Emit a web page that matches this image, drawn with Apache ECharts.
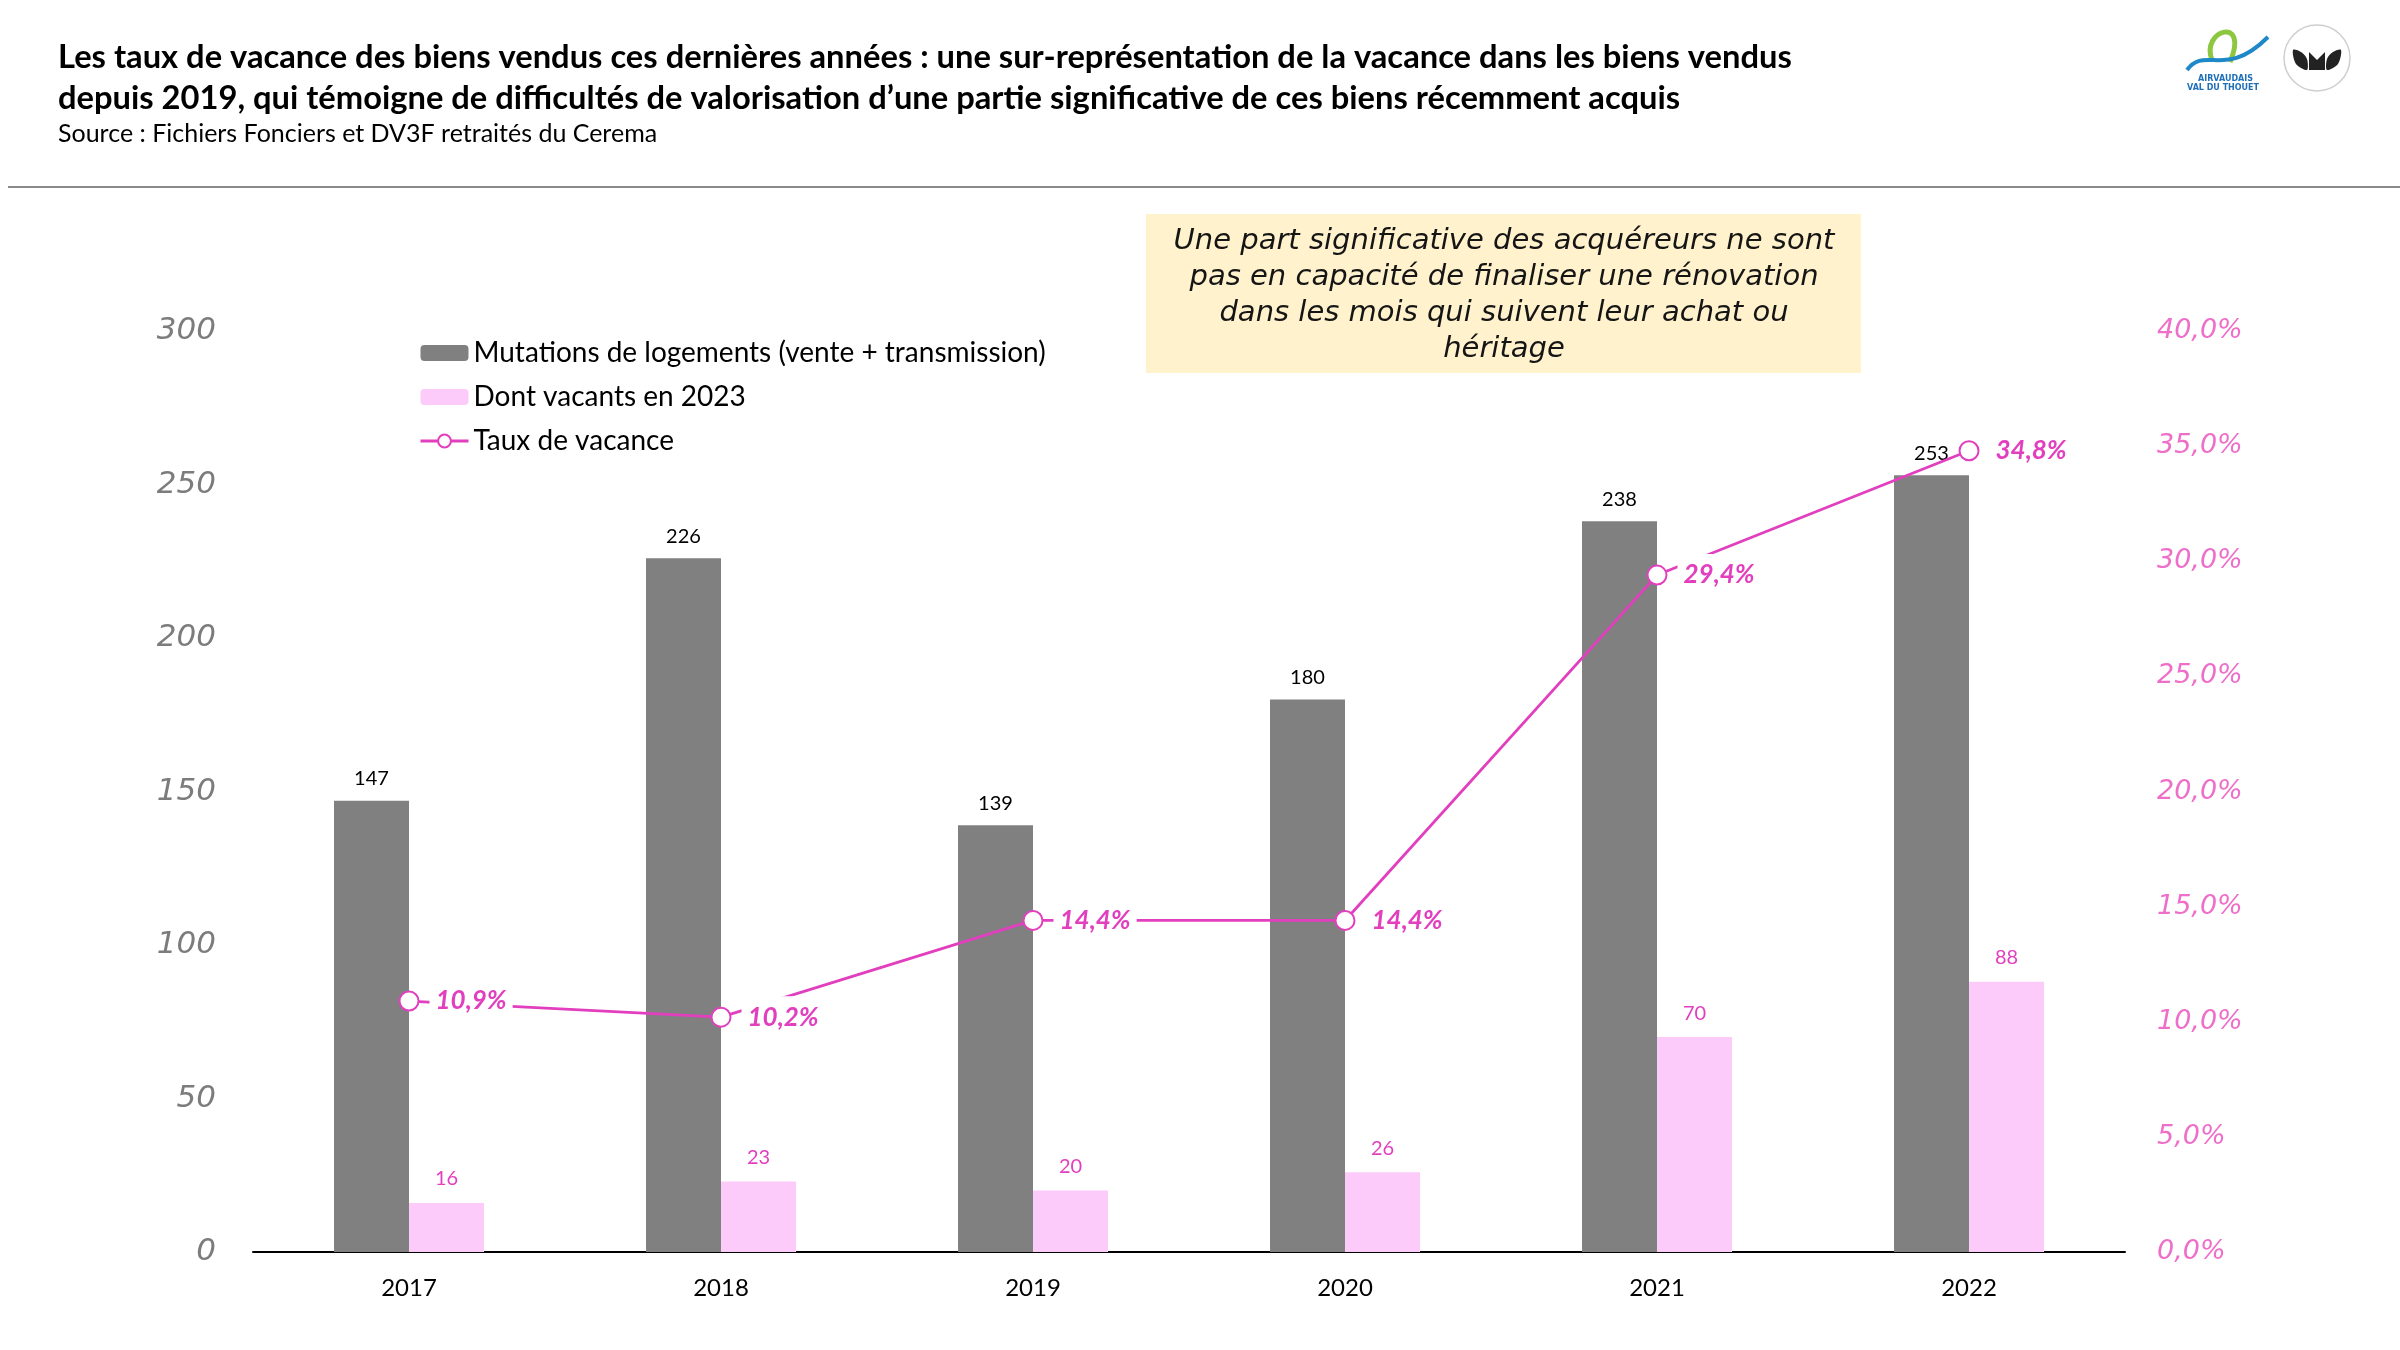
<!DOCTYPE html>
<html>
<head>
<meta charset="utf-8">
<script src="https://cdn.jsdelivr.net/npm/echarts@6/dist/echarts.min.js"></script>
<style>
html,body{margin:0;padding:0;background:#fff;}
#chart{width:2400px;height:1350px;}
</style>
</head>
<body>
<div id="chart"></div>
<script>
const categories = ['2017', '2018', '2019', '2020', '2021', '2022'];
const mutations = [147, 226, 139, 180, 238, 253];
const vacants = [16, 23, 20, 26, 70, 88];
const tauxVacance = [10.9, 10.2, 14.4, 14.4, 29.4, 34.8];
const seriesNames = ['Mutations de logements (vente + transmission)', 'Dont vacants en 2023', 'Taux de vacance'];
const titleLines = [
  'Les taux de vacance des biens vendus ces dernières années : une sur-représentation de la vacance dans les biens vendus',
  'depuis 2019, qui témoigne de difficultés de valorisation d\u2019une partie significative de ces biens récemment acquis'
];
const sourceText = 'Source : Fichiers Fonciers et DV3F retraités du Cerema';
const noteLines = [
  'Une part significative des acquéreurs ne sont',
  'pas en capacité de finaliser une rénovation',
  'dans les mois qui suivent leur achat ou',
  'héritage'
];

const MAGENTA = '#E23FBF';
const PINK_AXIS = '#EE6FC9';
const fmtPct = v => Number(v).toFixed(1).replace('.', ',') + '%';

const chart = echarts.init(document.getElementById('chart'), null, {renderer: 'canvas'});

const option = {
  backgroundColor: '#ffffff',
  animation: false,
  grid: {left: 253, right: 275, top: 331, bottom: 98, containLabel: false},
  legend: {
    orient: 'vertical',
    left: 419,
    top: 339,
    padding: 0,
    itemWidth: 48,
    itemHeight: 16,
    itemGap: 16,
    data: [
      {name: seriesNames[0]},
      {name: seriesNames[1]},
      {name: seriesNames[2], itemStyle: {borderWidth: 3}, lineStyle: {width: 3}}
    ],
    textStyle: {fontFamily: 'Lato', fontSize: 28, color: '#000', lineHeight: 28}
  },
  xAxis: {
    type: 'category',
    data: categories,
    boundaryGap: true,
    axisLine: {show: true, lineStyle: {color: '#000', width: 2}},
    axisTick: {show: false},
    axisLabel: {fontFamily: 'Lato', fontSize: 24, color: '#000', margin: 24}
  },
  yAxis: [
    {
      type: 'value', min: 0, max: 300, interval: 50,
      axisLine: {show: false}, axisTick: {show: false}, splitLine: {show: false},
      axisLabel: {fontFamily: 'DejaVu Sans', fontStyle: 'italic', fontSize: 31, color: '#7c7c7c', margin: 37}
    },
    {
      type: 'value', min: 0, max: 40, interval: 5, position: 'right',
      axisLine: {show: false}, axisTick: {show: false}, splitLine: {show: false},
      axisLabel: {fontFamily: 'DejaVu Sans', fontStyle: 'italic', fontSize: 27, color: PINK_AXIS, margin: 32, formatter: fmtPct}
    }
  ],
  series: [
    {
      name: seriesNames[0], type: 'bar', data: mutations, yAxisIndex: 0,
      barWidth: 75, barGap: '0%',
      itemStyle: {color: '#808080'},
      label: {show: true, position: 'top', distance: 12, fontFamily: 'Lato', fontSize: 20, color: '#000'}
    },
    {
      name: seriesNames[1], type: 'bar', data: vacants, yAxisIndex: 0,
      barWidth: 75, barGap: '0%',
      itemStyle: {color: '#FCCBFA'},
      label: {show: true, position: 'top', distance: 14, fontFamily: 'Lato', fontSize: 20, color: MAGENTA}
    },
    {
      name: seriesNames[2], type: 'line', data: tauxVacance, yAxisIndex: 1,
      symbol: 'emptyCircle', symbolSize: 19,
      lineStyle: {color: MAGENTA, width: 2.8},
      itemStyle: {color: MAGENTA, borderColor: MAGENTA, borderWidth: 3},
      z: 5,
      label: {
        show: true, position: 'right', distance: 10,
        formatter: p => fmtPct(p.value),
        fontFamily: 'Lato', fontStyle: 'italic', fontWeight: 'bold', fontSize: 26, color: MAGENTA,
        backgroundColor: '#ffffff', padding: [8, 6, 8, 6]
      }
    }
  ],
  graphic: [
    {type: 'text', x: 58, y: 37, style: {text: titleLines.join('\n'), font: 'bold 32.7px Lato', fill: '#000', lineHeight: 41, textVerticalAlign: 'top', verticalAlign: 'top'}},
    {type: 'text', x: 58, y: 121, style: {text: sourceText, font: '25px Lato', fill: '#000', textVerticalAlign: 'top', verticalAlign: 'top'}},
    {type: 'line', shape: {x1: 8, y1: 187, x2: 2400, y2: 187}, style: {stroke: '#8a8a8a', lineWidth: 2}},
    {type: 'rect', shape: {x: 1146, y: 214, width: 715, height: 159}, style: {fill: '#FFF2CC'}},
    {type: 'text', x: 1504, y: 223,
      style: {text: noteLines.join('\n'), font: 'italic 29px "DejaVu Sans"', fill: '#151515', lineHeight: 36,
        textAlign: 'center', align: 'center', textVerticalAlign: 'top', verticalAlign: 'top'}
    },
    // logo right
    {type: 'circle', shape: {cx: 2317, cy: 58, r: 33}, style: {fill: '#fff', stroke: '#cfcfcf', lineWidth: 1.5}},
    {type: 'polygon', shape: {points: [[2293, 50], [2296, 64], [2307, 70], [2307, 59], [2301, 52]], smooth: 0.3}, style: {fill: '#222'}},
    {type: 'polygon', shape: {points: [[2309, 52], [2317, 60], [2325, 52], [2325, 70], [2309, 70]]}, style: {fill: '#222'}},
    {type: 'polygon', shape: {points: [[2341, 50], [2338, 64], [2327, 70], [2327, 59], [2333, 52]], smooth: 0.3}, style: {fill: '#222'}},
    // logo left
    {type: 'bezierCurve', shape: {x1: 2212, y1: 60, cpx1: 2200, cpy1: 30, cpx2: 2250, cpy2: 15, x2: 2230, y2: 62}, style: {fill: 'none', stroke: '#8DC63F', lineWidth: 5}},
    {type: 'bezierCurve', shape: {x1: 2187, y1: 70, cpx1: 2205, cpy1: 45, cpx2: 2225, cpy2: 80, x2: 2268, y2: 37}, style: {fill: 'none', stroke: '#1E88C8', lineWidth: 4}},
    {type: 'text', x: 2198, y: 75, style: {text: 'AIRVAUDAIS', font: 'bold 8px "DejaVu Sans"', fill: '#1E6FB8', textVerticalAlign: 'top', verticalAlign: 'top'}},
    {type: 'text', x: 2187, y: 84, style: {text: 'VAL DU THOUET', font: 'bold 8px "DejaVu Sans"', fill: '#1E6FB8', textVerticalAlign: 'top', verticalAlign: 'top'}}
  ]
};
chart.setOption(option);
</script>
</body>
</html>
